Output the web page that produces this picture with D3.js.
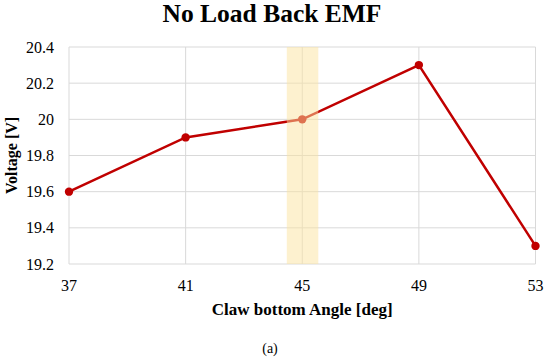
<!DOCTYPE html>
<html>
<head>
<meta charset="utf-8">
<script src="https://cdn.jsdelivr.net/npm/d3@7"></script>
<style>
  body { margin: 0; background: #fff; }
</style>
</head>
<body>
<svg width="550" height="361"></svg>
<script>
// data
var angles = [37, 41, 45, 49, 53];
var voltages = [19.6, 19.9, 20.0, 20.3, 19.3];
var yTicks = [19.2, 19.4, 19.6, 19.8, 20, 20.2, 20.4];
var xTicks = [37, 41, 45, 49, 53];
var highlight = [44.47, 45.55]; // shaded band round 45 deg

var FONT = "'Liberation Serif', 'Times New Roman', Times, 'DejaVu Serif', serif";

var svg = d3.select('svg');
var plotL = 69, plotR = 535.5, plotT = 47, plotB = 264;

var x = d3.scaleLinear().domain([37, 53]).range([plotL, plotR]);
var y = d3.scaleLinear().domain([19.2, 20.4]).range([plotB, plotT]);

// grid
svg.append('g').selectAll('line')
   .data(yTicks)
   .enter().append('line')
   .attr('x1', plotL).attr('x2', plotR)
   .attr('y1', function(d){ return y(d); })
   .attr('y2', function(d){ return y(d); })
   .attr('stroke', '#d9d9d9').attr('stroke-width', 1);
svg.append('g').selectAll('line')
   .data(xTicks)
   .enter().append('line')
   .attr('x1', function(d){ return x(d); })
   .attr('x2', function(d){ return x(d); })
   .attr('y1', plotT).attr('y2', plotB)
   .attr('stroke', '#d9d9d9').attr('stroke-width', 1);

// series
var line = d3.line()
   .x(function(d, i){ return x(angles[i]); })
   .y(function(d){ return y(d); });
svg.append('path')
   .datum(voltages)
   .attr('d', line)
   .attr('fill', 'none')
   .attr('stroke', '#c00000')
   .attr('stroke-width', 2.5);
svg.append('g').selectAll('circle')
   .data(voltages)
   .enter().append('circle')
   .attr('cx', function(d, i){ return x(angles[i]); })
   .attr('cy', function(d){ return y(d); })
   .attr('r', 4.2)
   .attr('fill', '#c00000');

// highlight band drawn over the line
svg.append('rect')
   .attr('x', x(highlight[0]))
   .attr('width', x(highlight[1]) - x(highlight[0]))
   .attr('y', plotT)
   .attr('height', plotB - plotT)
   .attr('fill', '#fbe3a0')
   .attr('opacity', 0.5);

// tick labels
svg.append('g').selectAll('text')
   .data(yTicks)
   .enter().append('text')
   .attr('x', 54)
   .attr('y', function(d){ return y(d) + 5.5; })
   .attr('text-anchor', 'end')
   .attr('font-family', FONT)
   .attr('font-size', 16)
   .text(function(d){ return d3.format('')(d); });
svg.append('g').selectAll('text')
   .data(xTicks)
   .enter().append('text')
   .attr('x', function(d){ return x(d); })
   .attr('y', 291)
   .attr('text-anchor', 'middle')
   .attr('font-family', FONT)
   .attr('font-size', 16)
   .text(function(d){ return d; });

// titles
svg.append('text')
   .attr('x', 272).attr('y', 22)
   .attr('text-anchor', 'middle')
   .attr('font-family', FONT)
   .attr('font-size', 25.5).attr('font-weight', 'bold')
   .text('No Load Back EMF');
svg.append('text')
   .attr('transform', 'translate(17,' + (plotT + plotB) / 2 + ') rotate(-90)')
   .attr('text-anchor', 'middle')
   .attr('font-family', FONT)
   .attr('font-size', 16).attr('font-weight', 'bold')
   .text('Voltage [V]');
svg.append('text')
   .attr('x', (plotL + plotR) / 2).attr('y', 315)
   .attr('text-anchor', 'middle')
   .attr('font-family', FONT)
   .attr('font-size', 17).attr('font-weight', 'bold')
   .text('Claw bottom Angle [deg]');
svg.append('text')
   .attr('x', 270).attr('y', 353)
   .attr('text-anchor', 'middle')
   .attr('font-family', FONT)
   .attr('font-size', 14)
   .text('(a)');
</script>
</body>
</html>
